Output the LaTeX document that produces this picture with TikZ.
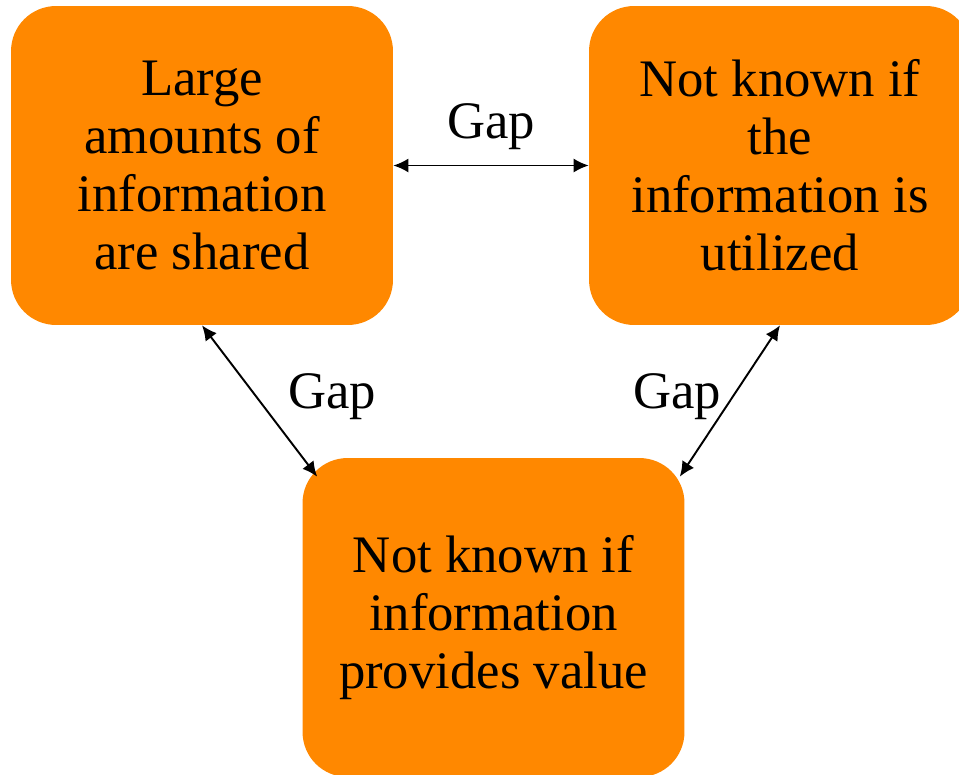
\documentclass[tikz,border=0pt]{standalone}
\usepackage{fontspec}
\setmainfont{Liberation Serif}
\usepackage{tikz}
\usepackage{xcolor}
\usetikzlibrary{arrows.meta}

\definecolor{gaporange}{RGB}{255,136,0}

\begin{document}
\begin{tikzpicture}[x=0.02cm,y=-0.02cm,
  infobox/.style={fill=gaporange, rounded corners=0.9cm, minimum width=7.64cm, minimum height=6.38cm, align=center, font=\fontsize{30}{33}\selectfont},
  gaparrow/.style={{Latex[length=0.3cm,width=0.28cm]}-{Latex[length=0.3cm,width=0.28cm]}, line width=1.1pt},
  gaplabel/.style={inner sep=0pt, font=\fontsize{30}{33}\selectfont}]
\useasboundingbox (0,0) rectangle (959,774);

\node[infobox] (shared) at (202,165.5) {Large\\amounts of\\information\\are shared};
\node[infobox] (utilized) at (780,165.5) {Not known if\\the\\information is\\utilized};
\node[infobox] (value) at (493.5,617.5) {Not known if\\information\\provides value};

\draw[gaparrow] (shared.east) -- (utilized.west) node[gaplabel, midway, above=0.3cm] (gaptop) {Gap};
\draw[gaparrow] (shared.south) -- ([shift={(0.3cm,-0.38cm)}]value.north west) node[gaplabel, pos=0.47, right=0.62cm] (gapleft) {Gap};
\draw[gaparrow] (utilized.south) -- ([shift={(-0.1cm,-0.38cm)}]value.north east) node[gaplabel, pos=0.47, left=0.22cm] (gapright) {Gap};

\end{tikzpicture}
\end{document}
